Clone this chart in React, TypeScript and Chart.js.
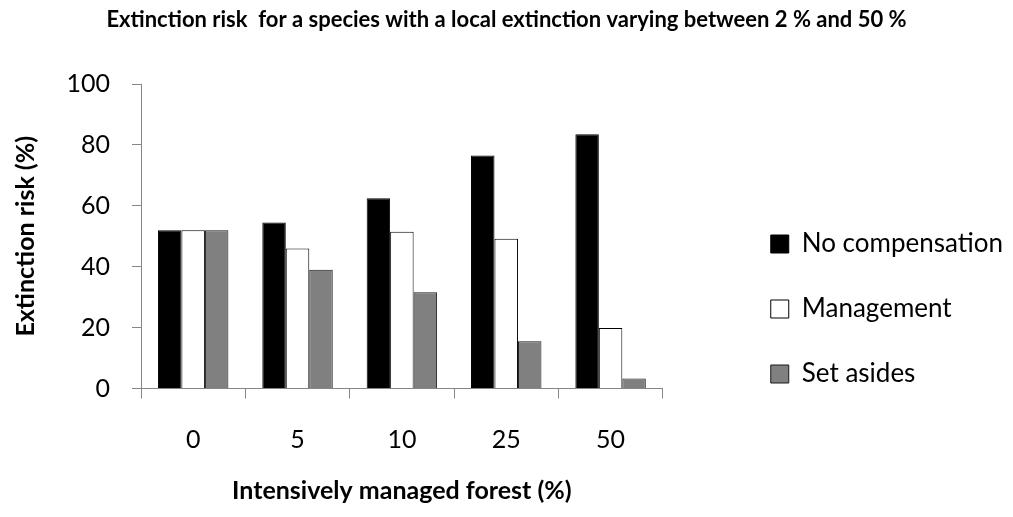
import React, { useEffect, useRef } from 'react';
import { Chart, registerables } from 'chart.js';

Chart.register(...registerables);

const categories = ['0', '5', '10', '25', '50'];
const noCompensation = [52, 54.5, 62.5, 76.5, 83.5];
const management = [52, 46, 51.5, 49.2, 19.9];
const setAsides = [52, 39, 31.6, 15.5, 3.3];
const seriesNames = ['No compensation', 'Management', 'Set asides'];
const titleText = 'Extinction risk  for a species with a local extinction varying between 2 % and 50 %';
const yTitle = 'Extinction risk (%)';
const xTitle = 'Intensively managed forest (%)';

const FONT = 'Lato';
const AXIS_GRAY = '#868686';

export default function App() {
  const canvasRef = useRef<HTMLCanvasElement | null>(null);

  useEffect(() => {
    document.body.style.margin = '0';
    const canvas = canvasRef.current;
    if (!canvas) return;
    const chart = new Chart(canvas, {
      type: 'bar',
      data: {
        labels: categories,
        datasets: [
          {
            label: seriesNames[0],
            data: noCompensation,
            backgroundColor: '#000000',
            borderColor: '#000000',
            borderWidth: 1,
          },
          {
            label: seriesNames[1],
            data: management,
            backgroundColor: '#ffffff',
            borderColor: '#000000',
            borderWidth: 1,
          },
          {
            label: seriesNames[2],
            data: setAsides,
            backgroundColor: '#808080',
            borderColor: '#1a1a1a',
            borderWidth: 1,
          },
        ],
      },
      options: {
        animation: false,
        responsive: true,
        maintainAspectRatio: false,
        layout: { padding: 0 },
        datasets: {
          bar: { categoryPercentage: 0.675, barPercentage: 1 },
        },
        plugins: {
          title: {
            display: true,
            text: titleText,
            color: '#000',
            font: { family: FONT, size: 22, weight: 'bold' },
            padding: { top: 6.8, bottom: 50.8 },
          },
          legend: {
            display: true,
            position: 'right',
            align: 'center',
            maxWidth: 500,
            title: {
              display: true,
              text: '',
              font: { size: 12 },
              padding: { top: 0, bottom: 86.6 },
            },
            labels: {
              color: '#000',
              font: { family: FONT, size: 26 },
              boxWidth: 18,
              boxHeight: 18,
              padding: 39,
            },
          },
          tooltip: { enabled: false },
        },
        scales: {
          x: {
            grid: {
              display: true,
              drawOnChartArea: false,
              offset: true,
              tickLength: 10,
              color: AXIS_GRAY,
            },
            border: { display: true, color: AXIS_GRAY },
            ticks: {
              color: '#000',
              font: { family: FONT, size: 25 },
              padding: 26,
            },
            title: {
              display: true,
              text: xTitle,
              color: '#000',
              font: { family: FONT, size: 25, weight: 'bold' },
              padding: { top: 0, bottom: 11 },
            },
            afterFit: (s: any) => {
              s.height = 128.5;
            },
          },
          y: {
            min: 0,
            max: 100,
            ticks: {
              stepSize: 20,
              color: '#000',
              font: { family: FONT, size: 25 },
              padding: 22,
            },
            grid: {
              display: true,
              drawOnChartArea: false,
              tickLength: 9,
              color: AXIS_GRAY,
            },
            border: { display: true, color: AXIS_GRAY },
            title: {
              display: true,
              text: yTitle,
              color: '#000',
              font: { family: FONT, size: 25, weight: 'bold' },
              padding: { top: 11, bottom: 0 },
            },
            afterFit: (s: any) => {
              s.width = 141;
            },
          },
          spacer: {
            type: 'linear',
            position: 'right',
            display: true,
            grid: { display: false },
            border: { display: false },
            ticks: { display: false },
            afterFit: (s: any) => {
              s.width = 69;
            },
          },
        },
      },
    });
    return () => chart.destroy();
  }, []);

  return (
    <div style={{ position: 'relative', width: 1013, height: 517 }}>
      <canvas ref={canvasRef} />
    </div>
  );
}
